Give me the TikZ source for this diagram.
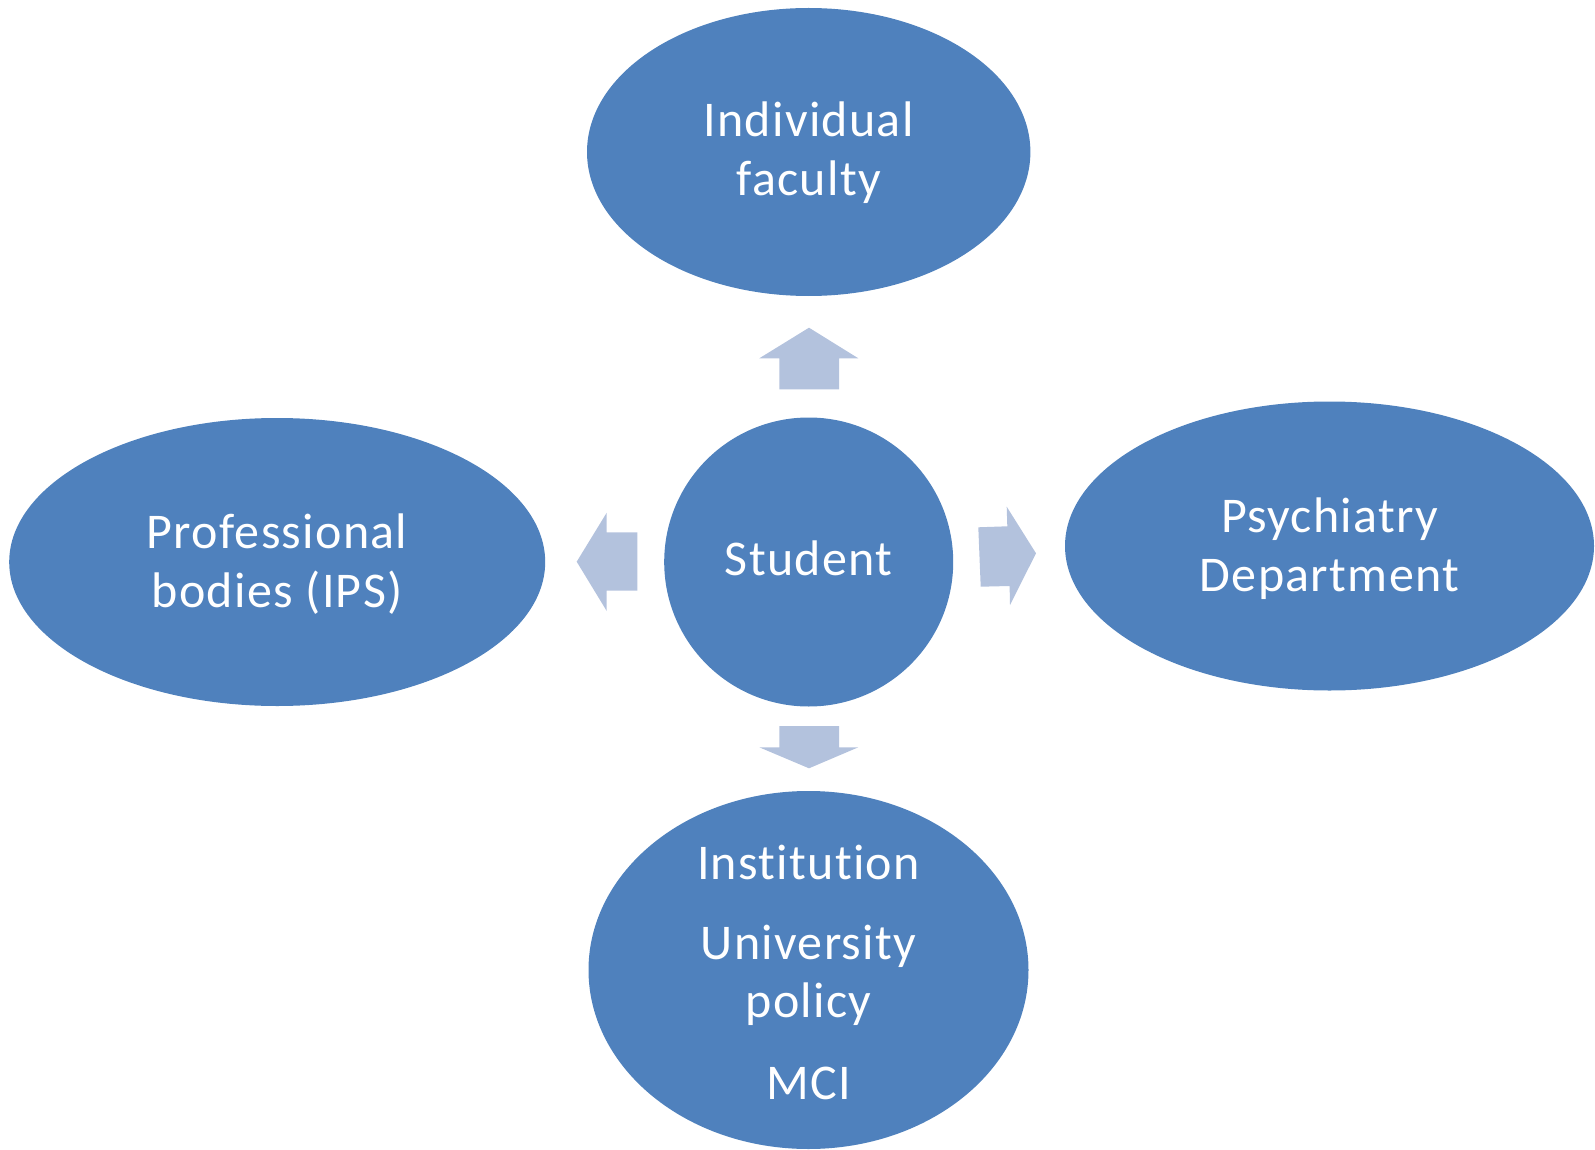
\documentclass[tikz,border=0pt]{standalone}
\usepackage{fontspec}
\setmainfont{Carlito}[Ligatures=NoCommon, LetterSpace=2.6]
\begin{document}
\begin{tikzpicture}[x=1pt,y=-1pt,
  lbl/.style={anchor=base, text=white, inner sep=0pt, font=\fontsize{50}{59}\selectfont},
  blockarrow/.style={fill=arrowblue, draw=none}]
\definecolor{blobblue}{HTML}{4F81BD}
\definecolor{arrowblue}{HTML}{B3C2DD}
\useasboundingbox (0,0) rectangle (1595,1150);
% the five bubbles
\path[fill=blobblue] (808.7,152) ellipse [x radius=221.7, y radius=144];
\path[fill=blobblue] (277.2,562) ellipse [x radius=268, y radius=144];
\path[fill=blobblue] (808.7,562) circle [radius=144.5];
\path[fill=blobblue] (1329.5,546) ellipse [x radius=264.5, y radius=144.5];
\path[fill=blobblue] (808.5,970) ellipse [x radius=220, y radius=179];
\coordinate (faculty) at (808.7,152);
\coordinate (ips) at (277.2,562);
\coordinate (student) at (808.7,562);
\coordinate (dept) at (1329.5,546);
\coordinate (inst) at (808.5,970);
% labels
\node[lbl] (t1) at (808.7,136.7) {Individual};
\node[lbl] (t2) at (808.7,196) {faculty};
\node[lbl] (t3) at (808.7,575.7) {Student};
\node[lbl] (t4) at (277.2,548) {Professional};
\node[lbl] (t5) at (277.2,607) {bodies (IPS)};
\node[lbl] (t6) at (1329.5,532) {Psychiatry};
\node[lbl] (t7) at (1329.5,591) {Department};
\node[lbl] (t8) at (808.5,879) {Institution};
\node[lbl] (t9) at (808.5,959) {University};
\node[lbl] (t10) at (808.5,1017) {policy};
\node[lbl] (t11) at (808.5,1099) {MCI};
% block arrows pointing out from the student
\fill[blockarrow] (779.3,389.3) -- (779.3,358.3) -- (759.3,358.3) -- (809,327.7)
  -- (858.3,358.3) -- (839,358.3) -- (839,389.3) -- cycle;
\fill[blockarrow] (637.3,532.3) -- (606.7,532.3) -- (606.7,512.7) -- (576.7,561.7)
  -- (606.7,611) -- (606.7,590.7) -- (637.3,590.7) -- cycle;
\fill[blockarrow] (978.3,527.3) -- (1007.3,526.3) -- (1006.7,506.7) -- (1036,553.3)
  -- (1010,605) -- (1009.6,586) -- (980.7,586.7) -- cycle;
\fill[blockarrow] (779.3,726) -- (839,726) -- (839,747.3) -- (858.3,747.3)
  -- (809,768.3) -- (759.3,747.3) -- (779.3,747.3) -- cycle;
\end{tikzpicture}
\end{document}
